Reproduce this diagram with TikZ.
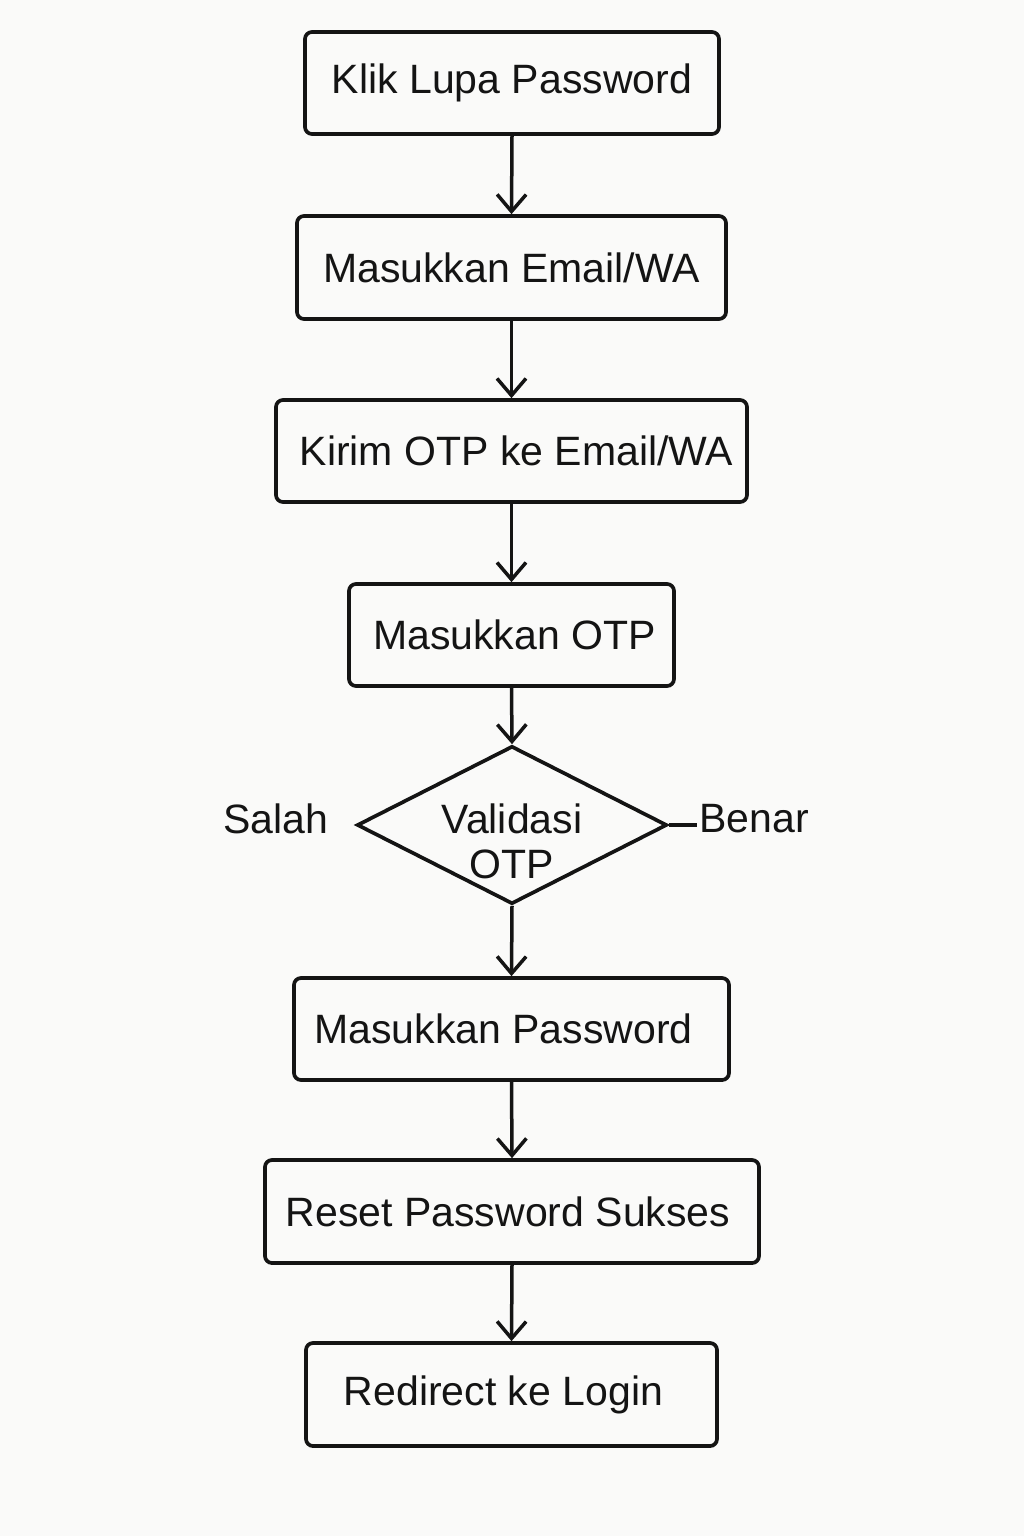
\documentclass[tikz,border=0pt]{standalone}
\usepackage{fontspec}
\setmainfont{Liberation Sans}
\usetikzlibrary{shapes.geometric,arrows.meta}
\definecolor{bgc}{RGB}{250,250,249}
\definecolor{ink}{RGB}{20,20,20}
\newcommand{\padr}[1]{\rule{#1}{0pt}}
\tikzset{
  stepbox/.style={draw=ink, line width=1.85pt, rounded corners=3.5pt, inner sep=0pt,
    minimum height=51pt, font=\fontsize{20.5}{24}\selectfont, text=ink},
  flow/.style={draw=ink, line width=1.75pt, -{Straight Barb[length=8.5pt,width=14.5pt,line width=1.75pt]}},
  lbl/.style={inner sep=1pt, font=\fontsize{20.5}{24}\selectfont, text=ink}
}
\begin{document}
\begin{tikzpicture}
\fill[bgc] (0,0) rectangle (512pt,-768pt);
\useasboundingbox (0,0) rectangle (512pt,-768pt);

\node[stepbox, minimum width=207pt] (b1) at (256pt,-41.5pt) {\raisebox{-1.5pt}{Klik Lupa Password}};
\node[stepbox, minimum width=214.5pt, minimum height=51.5pt] (b2) at (255.75pt,-133.75pt) {Masukkan Email/WA};
\node[stepbox, minimum width=235.5pt] (b3) at (255.75pt,-225.5pt) {\padr{5pt}Kirim OTP ke Email/WA};
\node[stepbox, minimum width=162.5pt] (b4) at (255.75pt,-317.5pt) {\padr{3pt}Masukkan OTP};
\node[draw=ink, line width=1.85pt, shape=diamond, inner sep=0pt, minimum width=155pt, minimum height=79pt] (dec) at (256pt,-412.5pt) {};
\node[lbl, align=center, font=\fontsize{20.5}{22.5}\selectfont] (dectext) at (256pt,-420.5pt) {Validasi\\OTP};
\node[stepbox, minimum width=217.5pt] (b5) at (255.75pt,-514.5pt) {Masukkan Password\padr{8pt}};
\node[stepbox, minimum width=247pt, minimum height=51.5pt] (b6) at (256pt,-605.75pt) {Reset Password Sukses\padr{4pt}};
\node[stepbox, minimum width=205.5pt, minimum height=51.5pt] (b7) at (255.75pt,-697.25pt) {\raisebox{-1pt}{Redirect ke Login}\padr{8pt}};

\node[lbl] (salah) at (137.75pt,-409.5pt) {Salah};
\node[lbl, anchor=west] (benar) at (348.5pt,-409.5pt) {Benar};

\draw[flow] (b1.south) -- (b2.north);
\draw[flow] (b2.south) -- (b3.north);
\draw[flow] (b3.south) -- (b4.north);
\draw[flow] (b4.south) -- (dec.north);
\draw[flow] (dec.south) -- (b5.north);
\draw[flow] (b5.south) -- (b6.north);
\draw[flow] (b6.south) -- (b7.north);
\draw[draw=ink, line width=1.75pt] (dec.east) -- (dec.east -| benar.west);
\end{tikzpicture}
\end{document}
